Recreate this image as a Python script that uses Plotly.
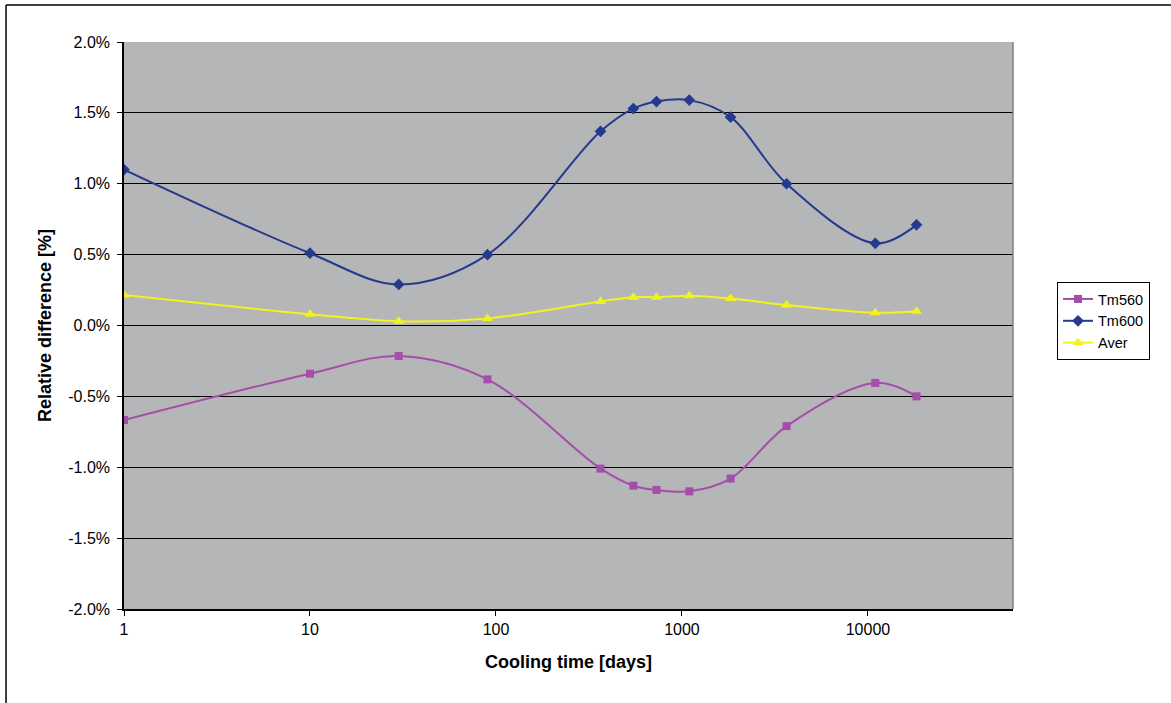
import plotly.graph_objects as go

cooling_days = [1, 10, 30, 90, 365, 548, 730, 1095, 1826, 3652, 10950, 18250]
tm560 = [-0.667, -0.34, -0.215, -0.38, -1.01, -1.13, -1.16, -1.17, -1.08, -0.71, -0.405, -0.50]
tm600 = [1.10, 0.51, 0.29, 0.50, 1.37, 1.53, 1.58, 1.59, 1.47, 1.00, 0.58, 0.71]
aver = [0.215, 0.08, 0.03, 0.05, 0.17, 0.20, 0.20, 0.21, 0.19, 0.145, 0.09, 0.10]

x_ticks = [1, 10, 100, 1000, 10000]
x_tick_text = ["1", "10", "100", "1000", "10000"]
y_ticks = [-2.0, -1.5, -1.0, -0.5, 0.0, 0.5, 1.0, 1.5, 2.0]
y_tick_text = ["-2.0%", "-1.5%", "-1.0%", "-0.5%", "0.0%", "0.5%", "1.0%", "1.5%", "2.0%"]

FONT = "Liberation Sans, Arial, sans-serif"

fig = go.Figure()
fig.add_trace(go.Scatter(x=cooling_days, y=tm560, name="Tm560", mode="lines+markers",
                         line=dict(color="#A64CAA", width=2, shape="spline", smoothing=1.0),
                         marker=dict(symbol="square", size=8, color="#A64CAA")))
fig.add_trace(go.Scatter(x=cooling_days, y=tm600, name="Tm600", mode="lines+markers",
                         line=dict(color="#253A8C", width=2, shape="spline", smoothing=1.0),
                         marker=dict(symbol="diamond", size=9, color="#253A8C")))
fig.add_trace(go.Scatter(x=cooling_days, y=aver, name="Aver", mode="lines+markers",
                         line=dict(color="#F2F21E", width=2, shape="spline", smoothing=1.0),
                         marker=dict(symbol="triangle-up", size=10, color="#F2F21E")))

fig.update_layout(
    width=1171, height=703,
    margin=dict(l=124, r=158, t=42, b=94),
    paper_bgcolor="white", plot_bgcolor="#B5B6B8",
    font=dict(family=FONT, size=16, color="black"),
    showlegend=True,
    legend=dict(x=1.0495, y=0.5767, xanchor="left", yanchor="top",
                bordercolor="black", borderwidth=1, bgcolor="white",
                font=dict(size=14.5), tracegroupgap=0, itemwidth=30),
    xaxis=dict(type="log", range=[0, 4.78], tickvals=x_ticks, ticktext=x_tick_text,
               showgrid=False, showline=True, linecolor="black", linewidth=1.5,
               ticks="outside", ticklen=5, tickcolor="black",
               title=dict(text="<b>Cooling time [days]</b>", font=dict(size=18), standoff=18)),
    yaxis=dict(range=[-2.0, 2.0], tickvals=y_ticks, ticktext=y_tick_text,
               showgrid=True, gridcolor="black", gridwidth=1, zeroline=False,
               showline=True, linecolor="black", linewidth=1.5,
               ticks="outside", ticklen=5, tickcolor="black", ticklabelstandoff=4,
               title=dict(text="<b>Relative difference [%]</b>", font=dict(size=18), standoff=12)),
    shapes=[
        dict(type="line", xref="paper", yref="paper", x0=1, x1=1, y0=0, y1=1,
             line=dict(color="#808080", width=1.5)),
        dict(type="line", xref="paper", yref="paper", x0=-0.1327, x1=-0.1327, y0=-0.2, y1=1.0653,
             line=dict(color="black", width=1.5)),
        dict(type="line", xref="paper", yref="paper", x0=-0.1327, x1=1.2, y0=1.0653, y1=1.0653,
             line=dict(color="black", width=1.5)),
    ],
)

fig.write_html("out.html", config={"displayModeBar": False},
               post_script="document.body.style.margin='0';")
